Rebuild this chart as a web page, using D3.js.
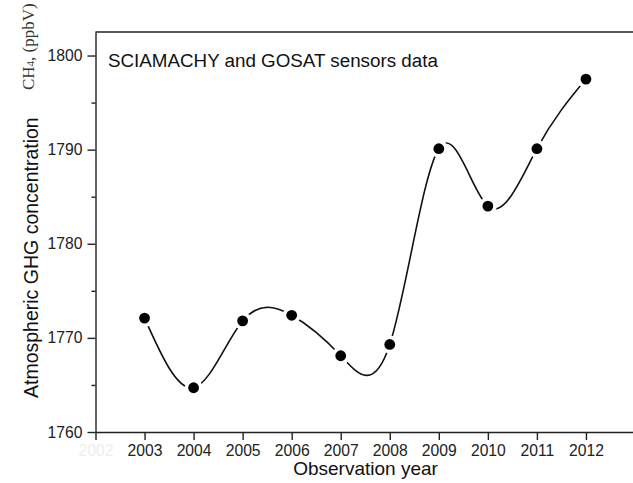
<!DOCTYPE html>
<html>
<head>
<meta charset="utf-8">
<script src="https://cdn.jsdelivr.net/npm/d3@7"></script>
<style>
  body { margin: 0; background: #fff; }
  svg { display: block; }
  .axis path, .axis line { stroke: #222; stroke-width: 1.4; }
  .axis text { font-family: "Liberation Sans", Arial, sans-serif; font-size: 15.7px; fill: #222; }
</style>
</head>
<body>
<svg width="633" height="483"></svg>
<script>
// observation years and CH4 concentration (ppbV)
var years = [2003, 2004, 2005, 2006, 2007, 2008, 2009, 2010, 2011, 2012];
var ch4 = [1772.1, 1764.7, 1771.8, 1772.4, 1768.1, 1769.3, 1790.1, 1784.0, 1790.1, 1797.5];
var xTicks = [2002, 2003, 2004, 2005, 2006, 2007, 2008, 2009, 2010, 2011, 2012];
var yTicks = [1760, 1770, 1780, 1790, 1800];
var yMinor = [1765, 1775, 1785, 1795];

var svg = d3.select("svg");
var plotLeft = 95.5, plotRight = 635, plotTop = 32, plotBottom = 432;

var x = d3.scaleLinear().domain([2002, 2013]).range([plotLeft, plotRight]);
var y = d3.scaleLinear().domain([1760, 1802.5]).range([plotBottom, plotTop]);

// frame: top border
svg.append("line")
    .attr("x1", plotLeft).attr("x2", plotRight)
    .attr("y1", plotTop).attr("y2", plotTop)
    .attr("stroke", "#222").attr("stroke-width", 1.4);

var xAxis = svg.append("g")
    .attr("class", "axis")
    .attr("transform", "translate(0," + plotBottom + ")")
    .call(d3.axisBottom(x).tickValues(xTicks).tickSize(8).tickSizeOuter(0).tickPadding(5).tickFormat(d3.format("d")));
xAxis.selectAll(".tick text")
    .style("fill", function(d){ return d === 2002 ? "#eee" : "#222"; });

svg.append("g")
    .attr("class", "axis")
    .attr("transform", "translate(" + plotLeft + ",0)")
    .call(d3.axisLeft(y).tickValues(yTicks).tickSize(8).tickSizeOuter(0).tickPadding(5).tickFormat(d3.format("d")));

svg.append("g")
    .attr("class", "axis")
    .attr("transform", "translate(" + plotLeft + ",0)")
    .call(d3.axisLeft(y).tickValues(yMinor).tickSize(4).tickSizeOuter(0).tickFormat(""))
    .select(".domain").remove();

// spline through the points
var pts = years.map(function(d, i){ return [x(d), y(ch4[i])]; });
svg.append("path")
    .datum(pts)
    .attr("d", d3.line().curve(d3.curveNatural))
    .attr("fill", "none")
    .attr("stroke", "#111")
    .attr("stroke-width", 1.6);

// white halo so the line stops short of each marker
svg.selectAll(".halo")
    .data(pts)
    .enter().append("circle")
    .attr("class", "halo")
    .attr("cx", function(d){ return d[0]; })
    .attr("cy", function(d){ return d[1]; })
    .attr("r", 9)
    .attr("fill", "#fff");

svg.selectAll(".dot")
    .data(pts)
    .enter().append("circle")
    .attr("class", "dot")
    .attr("cx", function(d){ return d[0]; })
    .attr("cy", function(d){ return d[1]; })
    .attr("r", 5.4)
    .attr("fill", "#000");

// labels
svg.append("text")
    .attr("x", 108)
    .attr("y", 67)
    .style("font-family", "Liberation Sans, Arial, sans-serif")
    .style("font-size", "18.8px")
    .style("fill", "#111")
    .text("SCIAMACHY and GOSAT sensors data");

svg.append("text")
    .attr("x", 365.5)
    .attr("y", 475)
    .attr("text-anchor", "middle")
    .style("font-family", "Liberation Sans, Arial, sans-serif")
    .style("font-size", "19px")
    .style("fill", "#111")
    .text("Observation year");

svg.append("text")
    .attr("transform", "translate(38,398) rotate(-90)")
    .style("font-family", "Liberation Sans, Arial, sans-serif")
    .style("font-size", "19.5px")
    .style("fill", "#111")
    .text("Atmospheric GHG concentration");

var ch4Label = svg.append("text")
    .attr("transform", "translate(34,90) rotate(-90)")
    .style("font-family", "Liberation Serif, Times New Roman, serif")
    .style("font-size", "17px")
    .style("fill", "#333");
ch4Label.append("tspan").text("CH");
ch4Label.append("tspan").style("font-size", "11px").text("4");
ch4Label.append("tspan").text(", (ppbV)");
</script>
</body>
</html>
